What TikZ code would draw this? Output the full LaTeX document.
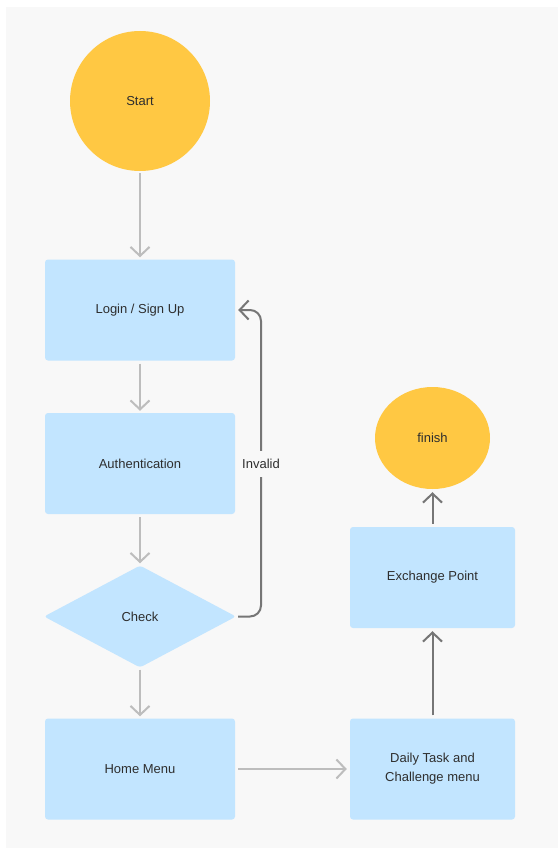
\documentclass[tikz,border=0pt]{standalone}
\usepackage{fontspec}
\setmainfont{Liberation Sans}
\usetikzlibrary{shapes.geometric,arrows.meta}
\definecolor{canvas}{HTML}{F8F8F8}
\definecolor{sun}{HTML}{FFC843}
\definecolor{sky}{HTML}{C2E5FF}
\definecolor{lightline}{HTML}{BDBDBD}
\definecolor{darkline}{HTML}{767676}
\definecolor{ink}{HTML}{2E2E2E}
\tikzset{
  every node/.style={font=\fontsize{13}{19}\selectfont, text=ink},
  stepbox/.style={rectangle, fill=sky, rounded corners=3pt, minimum width=190pt, minimum height=101pt, inner sep=0pt, align=center},
  widebox/.style={stepbox, minimum width=165pt},
  decision/.style={diamond, fill=sky, rounded corners=3pt, minimum width=192pt, minimum height=102pt, inner sep=0pt, aspect=1.9},
  terminal/.style={ellipse, fill=sun, inner sep=0pt},
  tip/.style={-{Straight Barb[length=9pt,width=19pt,line width=2pt]}},
  softflow/.style={tip, draw=lightline, line width=2pt},
  hardflow/.style={tip, draw=darkline, line width=2pt},
}
\begin{document}
\begin{tikzpicture}[x=1pt,y=-1pt]
  % page and canvas
  \fill[white] (0,0) rectangle (558,848);
  \fill[canvas] (6,7) rectangle (558,848);
  \useasboundingbox (0,0) rectangle (558,848);

  % nodes
  \node[terminal, minimum width=140pt, minimum height=140pt] (start) at (140,101) {Start};
  \node[stepbox] (login) at (140,310) {Login / Sign Up};
  \node[stepbox] (auth) at (140,463.5) {Authentication};
  \node[decision] (check) at (140,616.5) {Check};
  \node[stepbox] (home) at (140,769) {Home Menu};
  \node[widebox] (daily) at (432.5,769) {Daily Task and\\Challenge menu};
  \node[widebox] (exchange) at (432.5,577.5) {Exchange Point};
  \node[terminal, minimum width=115pt, minimum height=102pt] (finish) at (432.5,438) {finish};

  % connectors
  \draw[softflow] ([yshift=-2pt]start.south) -- ([yshift=2pt]login.north);
  \draw[softflow] ([yshift=-3pt]login.south) -- ([yshift=2pt]auth.north);
  \draw[softflow] ([yshift=-3pt]auth.south) -- ([yshift=2pt]check.north);
  \draw[softflow] ([yshift=-2pt]check.south) -- ([yshift=2pt]home.north);
  \draw[softflow] ([xshift=3pt]home.east) -- ([xshift=-3pt]daily.west);
  \draw[hardflow] ([yshift=3pt]daily.north) -- ([yshift=-3pt]exchange.south);
  \draw[hardflow] ([yshift=3pt]exchange.north) -- ([yshift=-3pt]finish.south);

  % retry loop back to login
  \coordinate (loopx) at (261,0);
  \draw[hardflow, rounded corners=11pt]
    ([xshift=2pt]check.east) -- (check.east -| loopx) -- (login.east -| loopx) -- ([xshift=3pt]login.east);
  \node[fill=canvas, inner xsep=1pt, inner ysep=8pt] (invalid) at (261,464) {Invalid};
\end{tikzpicture}
\end{document}
